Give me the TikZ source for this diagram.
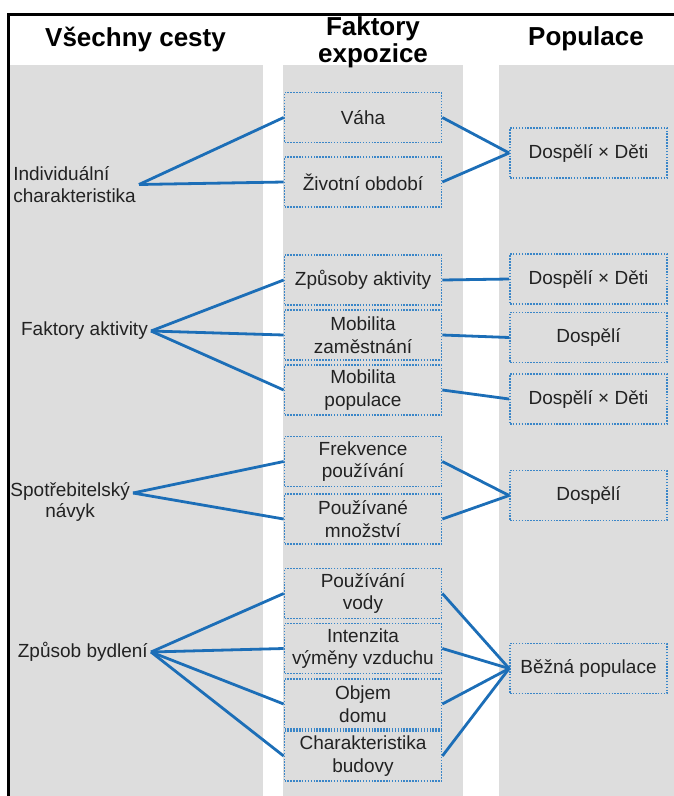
\documentclass[tikz,border=0pt]{standalone}
\usepackage{fontspec}
\setmainfont{Liberation Sans}
\usepackage{tikz}
\definecolor{panel}{RGB}{221,221,221}
\definecolor{wireblue}{RGB}{28,110,183}
\definecolor{dotblue}{RGB}{58,134,200}
\definecolor{ink}{RGB}{34,34,34}

\begin{document}
\begin{tikzpicture}[x=1pt,y=-1pt,
    head/.style={align=center, font=\fontsize{26}{27}\selectfont\bfseries},
    pathway/.style={inner sep=3pt, text=ink, font=\fontsize{19}{21.5}\selectfont},
    factor/.style={draw=dotblue, line width=1.7pt, dash pattern=on 1.5pt off 1.4pt,
        minimum width=157pt, minimum height=50pt, inner sep=2pt, align=center,
        text=ink, font=\fontsize{19}{22.5}\selectfont},
    wire/.style={draw=wireblue, line width=2.8pt}]
    \useasboundingbox (0,0) rectangle (674,796);
    \fill[panel] (8,65) rectangle (263,796);
    \fill[panel] (283,65) rectangle (463,796);
    \fill[panel] (499,65) rectangle (674,796);
    \draw[line width=3pt] (8,796) -- (8,14) -- (674,14);
    \node[head] (H1) at (135.5,39) {Všechny cesty};
    \node[head] (H2) at (373,42) {Faktory\\expozice};
    \node[head] (H3) at (586,39) {Populace};
    \node[pathway, anchor=east, align=left] (C1) at (139,184.5) {Individuální\\charakteristika};
    \node[pathway, anchor=east] (C2) at (151,331) {Faktory aktivity};
    \node[pathway, anchor=east, align=center] (C3) at (133,502) {Spotřebitelský\\návyk};
    \node[pathway, anchor=east] (C4) at (151,652) {Způsob bydlení};
    \foreach \n/\y/\t in {1/117.5/Váha, 2/182/Životní období, 3/280/Způsoby aktivity,
        4/335/Mobilita\\zaměstnání, 5/390/Mobilita\\populace, 6/461.5/Frekvence\\používání,
        7/519/Používané\\množství, 8/593.5/Používání\\vody, 9/648.5/Intenzita\\výměny vzduchu,
        10/704/Objem\\domu, 11/756/Charakteristika\\budovy} {
        \node[factor] (E\n) at (363,\y) {\t};
    }
    \foreach \n/\y/\t in {1/153/Dospělí × Děti, 2/279/Dospělí × Děti, 3/337.5/Dospělí,
        4/399/Dospělí × Děti, 5/495.5/Dospělí, 6/668.5/Běžná populace} {
        \node[factor] (P\n) at (588.5,\y) {\t};
    }
    \foreach \i in {1,2} \draw[wire] (C1.east) -- (E\i.west);
    \foreach \i in {3,4,5} \draw[wire] (C2.east) -- (E\i.west);
    \foreach \i in {6,7} \draw[wire] ([yshift=9pt]C3.east) -- (E\i.west);
    \foreach \i in {8,...,11} \draw[wire] (C4.east) -- (E\i.west);
    \foreach \a/\b in {1/1,2/1,3/2,4/3,5/4,6/5,7/5,8/6,9/6,10/6,11/6} {
        \draw[wire] (E\a.east) -- (P\b.west);
    }
\end{tikzpicture}
\end{document}
